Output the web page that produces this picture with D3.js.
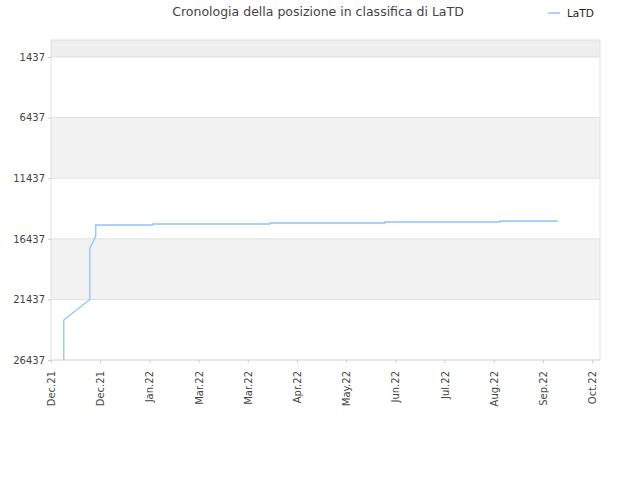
<!DOCTYPE html>
<html><head><meta charset="utf-8">
<script src="https://cdn.jsdelivr.net/npm/d3@7"></script>
<style>body{margin:0;background:#fff;font-family:"DejaVu Sans",sans-serif;}</style>
</head><body>
<script>
var title = "Cronologia della posizione in classifica di LaTD";
var seriesName = "LaTD";
var xLabels = ["Dec.21","Dec.21","Jan.22","Mar.22","Mar.22","Apr.22","May.22","Jun.22","Jul.22","Aug.22","Sep.22","Oct.22"];
var yTicks = [1437, 6437, 11437, 16437, 21437, 26437];
// position along the x axis (in tick-label units) and rank
var pointX = [0.26, 0.26, 0.79, 0.79, 0.83, 0.91, 0.91, 2.07, 2.07, 4.45, 4.45, 6.79, 6.79, 9.13, 9.13, 10.3];
var pointRank = [26437, 23137, 21437, 17196, 16900, 16206, 15298, 15298, 15215, 15215, 15132, 15132, 15050, 15050, 14967, 14967];

var W = 640, H = 480, L = 51, R = 600, T = 40, B = 360;
var svg = d3.select("body").append("svg").attr("width", W).attr("height", H);
var x = d3.scaleLinear().domain([0, 11.16]).range([L, R]);
var y = d3.scaleLinear().domain([34, 26437]).range([T, B]);

// bands
var edges = [34].concat(yTicks);
for (var i = 0; i < edges.length - 1; i++) {
  svg.append("rect").attr("x", L).attr("width", R - L)
    .attr("y", y(edges[i])).attr("height", y(edges[i + 1]) - y(edges[i]))
    .attr("fill", i === 0 ? "#eeeeee" : (i % 2 === 0 ? "#f2f2f2" : "#ffffff"));
}
svg.selectAll(".gl").data(yTicks).enter().append("line")
  .attr("x1", L).attr("x2", R).attr("y1", d => y(d)).attr("y2", d => y(d))
  .attr("stroke", "#e0e0e0");
svg.append("rect").attr("x", L).attr("y", T).attr("width", R - L).attr("height", B - T)
  .attr("fill", "none").attr("stroke", "#e0e0e0");

svg.append("g").attr("transform", "translate(" + L + ",0)")
  .call(d3.axisLeft(y).tickValues(yTicks).tickSize(3).tickFormat(d3.format("d")))
  .call(g => g.select(".domain").remove())
  .call(g => g.selectAll("line").attr("stroke", "#ccc"))
  .call(g => g.selectAll("text").attr("font-size", 10).attr("fill", "#444").attr("font-family", "DejaVu Sans"));

var xa = svg.append("g").attr("transform", "translate(0," + B + ")")
  .call(d3.axisBottom(x).tickValues(d3.range(xLabels.length)).tickSize(3).tickFormat(i => xLabels[i]));
xa.select(".domain").remove();
xa.selectAll("line").attr("stroke", "#ccc");
xa.selectAll("text").attr("font-size", 10).attr("fill", "#444").attr("font-family", "DejaVu Sans")
  .attr("text-anchor", "end").attr("dx", "-0.5em").attr("dy", "0.35em")
  .attr("transform", "rotate(-90)").attr("x", -6).attr("y", 0);

var pts = pointX.map((v, i) => [x(v), y(pointRank[i])]);
svg.append("path").attr("d", d3.line()(pts)).attr("fill", "none")
  .attr("stroke", "#90c4f4").attr("stroke-width", 1.3);

svg.append("text").attr("x", 318).attr("y", 16).attr("text-anchor", "middle")
  .attr("font-size", 12.5).attr("fill", "#444").text(title);
svg.append("line").attr("x1", 548).attr("x2", 560).attr("y1", 13).attr("y2", 13)
  .attr("stroke", "#90c4f4").attr("stroke-width", 1.5);
svg.append("text").attr("x", 567).attr("y", 17).attr("font-size", 10.5).attr("fill", "#222").text(seriesName);
</script>
</body></html>
